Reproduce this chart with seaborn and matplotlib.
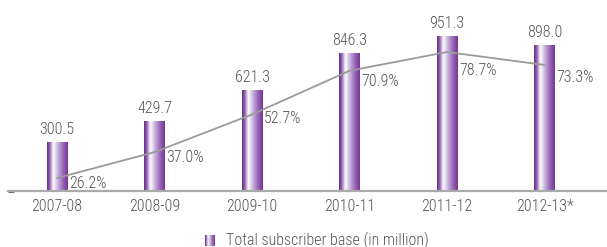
import numpy as np
import pandas as pd
import seaborn as sns
import matplotlib
from matplotlib import pyplot as plt
from matplotlib.colors import LinearSegmentedColormap

years = ["2007-08", "2008-09", "2009-10", "2010-11", "2011-12", "2012-13*"]
subscribers = [300.5, 429.7, 621.3, 846.3, 951.3, 898.0]
share = [26.2, 37.0, 52.7, 70.9, 78.7, 73.3]
# label offsets below the line points (pixels)
pct_dy = [-5, -5, -4, -11, -18, -13]

TEXT = "#555555"
FS = 11.5
sns.set_theme(style="white")
plt.rcParams["font.family"] = ["Roboto Condensed", "DejaVu Sans"]
plt.rcParams["font.weight"] = "light"

df = pd.DataFrame({"year": years, "subs": subscribers, "pct": share})

fig = plt.figure(figsize=(6.07, 2.47), dpi=100)
W, H = 607, 247
ax = fig.add_axes([8 / W, 1 - 191 / H, 599 / W, 181 / H])

sns.barplot(data=df, x="year", y="subs", ax=ax, width=0.21, color="#7b3a97",
            saturation=1, edgecolor="none")

purple = LinearSegmentedColormap.from_list(
    "bar", [(0, "#6a2a8a"), (0.12, "#8c5fae"), (0.3, "#ffffff"), (0.5, "#cdb9df"),
            (0.75, "#9a6cba"), (1, "#773495")])
grad = np.linspace(0, 1, 64).reshape(1, -1)
for p in ax.patches:
    x0, y0 = p.get_x(), p.get_y()
    w, h = p.get_width(), p.get_height()
    im = ax.imshow(grad, cmap=purple, aspect="auto", extent=[x0, x0 + w, y0, y0 + h],
                   zorder=2, interpolation="bicubic")
    im.set_clip_path(p)
    p.set_facecolor("none")

ax.set_xlim(-0.503, 5.64)
ax.set_ylim(0, 1110)
for i, v in enumerate(subscribers):
    ax.annotate(f"{v:.1f}", (i, v), xytext=(0, 8), textcoords="offset pixels",
                ha="center", va="baseline", fontsize=FS, color=TEXT)

ax2 = ax.twinx()
sns.lineplot(x=np.arange(len(share)), y=share, ax=ax2, color="#9a9a9a", lw=1.3)
ax2.set_ylim(20.8, 96.2)
for i, v in enumerate(share):
    ax2.annotate(f"{v:.1f}%", (i, v), xytext=(12, pct_dy[i]), textcoords="offset pixels",
                 ha="left", va="center", fontsize=FS, color=TEXT)

for a in (ax, ax2):
    for s in ["top", "right", "left"]:
        a.spines[s].set_visible(False)
    a.set_xlabel("")
    a.set_ylabel("")
ax2.spines["bottom"].set_visible(False)
ax2.set_yticks([])
ax.spines["bottom"].set_color("#aaaaaa")
ax.spines["bottom"].set_linewidth(1.6)
ax.set_yticks([0])
ax.set_yticklabels([""])
ax.tick_params(axis="y", direction="in", length=4.5, width=2, color="#555555", left=True)
ax.tick_params(axis="x", length=0, labelsize=FS, labelcolor=TEXT, pad=6)

# legend
icon = fig.add_axes([205 / W, 1 - 246 / H, 10 / W, 11 / H])
icon.imshow(grad, cmap=purple, aspect="auto", interpolation="bicubic")
icon.axis("off")
fig.text(226 / W, 1 - 240 / H, "Total subscriber base (in million)", fontsize=FS,
         color=TEXT, va="center", ha="left")

plt.savefig("out.png", dpi=100)
